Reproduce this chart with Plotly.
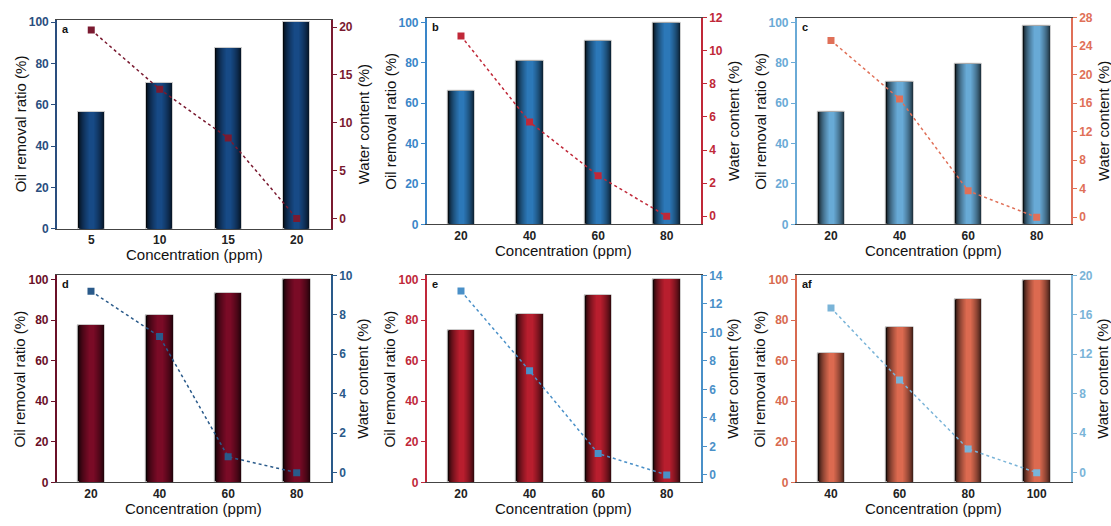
import plotly.graph_objects as go

W, H = 1111, 526

# ---------------- data ----------------
conc_a = [5, 10, 15, 20]
oil_a = [56.5, 70.5, 87.5, 100]
water_a = [19.7, 13.5, 8.4, 0]

conc_b = [20, 40, 60, 80]
oil_b = [66, 81, 90.7, 100]
water_b = [10.9, 5.7, 2.45, 0]

conc_c = [20, 40, 60, 80]
oil_c = [55.8, 70.5, 79.5, 98.5]
water_c = [24.8, 16.6, 3.7, 0]

conc_d = [20, 40, 60, 80]
oil_d = [77.4, 82.4, 93.4, 100]
water_d = [9.2, 6.9, 0.8, 0]

conc_e = [20, 40, 60, 80]
oil_e = [75, 83, 92.2, 100]
water_e = [12.9, 7.3, 1.5, 0]

conc_f = [40, 60, 80, 100]
oil_f = [63.7, 76.3, 90.2, 99.8]
water_f = [16.7, 9.4, 2.4, 0]

labels = ["a", "b", "c", "d", "e", "af"]
right_ticks = [
    [0, 5, 10, 15, 20],
    [0, 2, 4, 6, 8, 10, 12],
    [0, 4, 8, 12, 16, 20, 24, 28],
    [0, 2, 4, 6, 8, 10],
    [0, 2, 4, 6, 8, 10, 12, 14],
    [0, 4, 8, 12, 16, 20],
]
left_ticks = [0, 20, 40, 60, 80, 100]

panels = [
    dict(x=conc_a, oil=oil_a, water=water_a, bw=2,
         xr=[2.5, 22.5], yl=[0, 101.1], yr=[-1.06, 20.75],
         px=(57, 331), py=(13.3, 227.7),
         bar="#174a86", lc="#2a4e7e", rc="#7a1a30"),
    dict(x=conc_b, oil=oil_b, water=water_b, bw=8,
         xr=[10, 90], yl=[0, 102.3], yr=[-0.49, 12],
         px=(426.7, 701), py=(11, 223.3),
         bar="#2c78b8", lc="#3a86c8", rc="#c02838"),
    dict(x=conc_c, oil=oil_c, water=water_c, bw=8,
         xr=[10, 90], yl=[0, 102.3], yr=[-1.0, 28],
         px=(796.7, 1071), py=(11, 223.3),
         bar="#68aad6", lc="#6aaad6", rc="#e07058"),
    dict(x=conc_d, oil=oil_d, water=water_d, bw=8,
         xr=[10, 90], yl=[0, 102.1], yr=[-0.49, 10],
         px=(56.7, 331), py=(275.7, 488.3),
         bar="#7a0b26", lc="#6a1028", rc="#2a5a8a"),
    dict(x=conc_e, oil=oil_e, water=water_e, bw=8,
         xr=[10, 90], yl=[0, 102.1], yr=[-0.52, 14],
         px=(426.7, 701), py=(275.7, 488.3),
         bar="#b81e2e", lc="#c0283a", rc="#4a90c8"),
    dict(x=conc_f, oil=oil_f, water=water_f, bw=8,
         xr=[30, 110], yl=[0, 102.1], yr=[-0.98, 20],
         px=(796.7, 1071), py=(275.7, 488.3),
         bar="#dc6a50", lc="#d86a50", rc="#7ab4d8"),
]

FONT = "Arial, Liberation Sans, sans-serif"


def hex2rgb(h):
    h = h.lstrip("#")
    return tuple(int(h[i:i + 2], 16) for i in (0, 2, 4))


def shade(base, f):
    r, g, b = hex2rgb(base)
    return "rgb(%d,%d,%d)" % (r * f, g * f, b * f)


fig = go.Figure()
layout = {}
annotations = []
N_LAYERS = 12

for i, p in enumerate(panels):
    n = i + 1
    xa = "x%d" % n
    yl = "y%d" % (2 * i + 1)
    yr = "y%d" % (2 * i + 2)

    # cylindrical bars: stacked layers from dark (wide) to base colour (narrow)
    for k in range(N_LAYERS):
        t = k / (N_LAYERS - 1)
        width = p["bw"] * (1 - 0.8 * t)
        bright = 0.1 + 0.9 * (t ** 0.6)
        fig.add_trace(go.Bar(
            x=p["x"], y=p["oil"], width=width,
            marker=dict(color=shade(p["bar"], bright),
                        line=dict(color="#d0d0d0" if k == 0 else shade(p["bar"], bright),
                                  width=1 if k == 0 else 0)),
            xaxis=xa, yaxis=yl, showlegend=False, hoverinfo="skip",
        ))

    fig.add_trace(go.Scatter(
        x=p["x"], y=p["water"], mode="lines+markers",
        line=dict(color=p["rc"], width=1.5, dash="dot"),
        marker=dict(symbol="square", size=7, color=p["rc"]),
        xaxis=xa, yaxis=yr, showlegend=False,
    ))

    x0, x1 = p["px"][0] / W, p["px"][1] / W
    y0, y1 = 1 - p["py"][1] / H, 1 - p["py"][0] / H

    layout["xaxis%d" % n] = dict(
        domain=[x0, x1], range=p["xr"], anchor=yl,
        tickvals=p["x"], ticks="",
        tickfont=dict(family=FONT, size=12, color="#222", weight="bold"),
        showline=True, linecolor="#444", linewidth=1.2, mirror=True,
        showgrid=False, zeroline=False,
    )
    layout["yaxis%d" % (2 * i + 1)] = dict(
        domain=[y0, y1], range=p["yl"], anchor=xa,
        tickvals=left_ticks, ticks="outside", ticklen=4,
        tickcolor=p["lc"],
        tickfont=dict(family=FONT, size=12, color=p["lc"], weight="bold"),
        showline=True, linecolor=p["lc"], linewidth=1.6,
        showgrid=False, zeroline=False,
    )
    layout["yaxis%d" % (2 * i + 2)] = dict(
        domain=[y0, y1], range=p["yr"], anchor=xa, overlaying=yl, side="right",
        tickvals=right_ticks[i], ticks="outside", ticklen=4,
        tickcolor=p["rc"],
        tickfont=dict(family=FONT, size=12, color=p["rc"], weight="bold"),
        showline=True, linecolor=p["rc"], linewidth=1.6,
        showgrid=False, zeroline=False,
    )

    ymid = 1 - (p["py"][0] + p["py"][1]) / 2 / H
    annotations += [
        dict(text="<b>%s</b>" % labels[i], x=(p["px"][0] + 3) / W, y=1 - (p["py"][0] + 1) / H,
             xref="paper", yref="paper", xanchor="left", yanchor="top",
             showarrow=False, font=dict(family=FONT, size=11, color="#111")),
        dict(text="Oil removal ratio (%)", x=(p["px"][0] - 37) / W, y=ymid,
             xref="paper", yref="paper", textangle=-90, showarrow=False,
             xanchor="center", yanchor="middle",
             font=dict(family=FONT, size=15, color="#111")),
        dict(text="Water content (%)", x=(p["px"][1] + 32) / W, y=ymid,
             xref="paper", yref="paper", textangle=-90, showarrow=False,
             xanchor="center", yanchor="middle",
             font=dict(family=FONT, size=15, color="#111")),
        dict(text="Concentration (ppm)", x=(p["px"][0] + p["px"][1]) / 2 / W,
             y=1 - (p["py"][1] + 27) / H,
             xref="paper", yref="paper", showarrow=False,
             xanchor="center", yanchor="middle",
             font=dict(family=FONT, size=15, color="#111")),
    ]

fig.update_layout(
    width=W, height=H, margin=dict(l=0, r=0, t=0, b=0),
    paper_bgcolor="white", plot_bgcolor="white",
    barmode="overlay", bargap=0,
    annotations=annotations, showlegend=False,
    font=dict(family=FONT),
    **layout,
)

fig.write_html("out.html")
